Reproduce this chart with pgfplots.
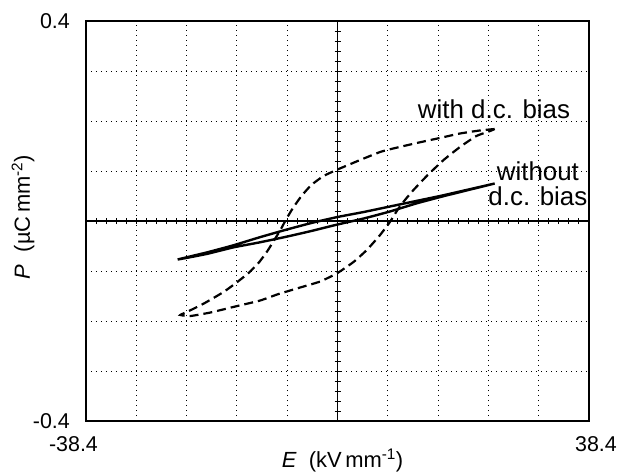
\documentclass[border=0pt]{standalone}
\usepackage{pgfplots}
\pgfplotsset{compat=1.18}
\usepackage{fontspec}
\setmainfont{Liberation Sans}
\newcommand{\annf}{\fontsize{26}{30}\selectfont}
\newcommand{\tickf}{\fontsize{21.5}{24}\selectfont}
\newcommand{\labf}{\fontsize{22}{26}\selectfont}
\begin{document}
\begin{tikzpicture}
\begin{axis}[
  scale only axis, width=503bp, height=400bp,
  xmin=-38.4, xmax=38.4, ymin=-0.4, ymax=0.4,
  xtick={-38.4,38.4}, xticklabels={{-38.4\hspace*{25bp}},{\hspace*{14bp}38.4}},
  ytick={-0.4,0.4}, yticklabels={-0.4,0.4},
  minor xtick={-30.72,-23.04,-15.36,-7.68,7.68,15.36,23.04,30.72},
  minor ytick={-0.3,-0.2,-0.1,0.1,0.2,0.3},
  grid=minor, minor grid style={black, line width=0.9bp, dash pattern=on 1.2bp off 3.8bp},
  major tick length=0pt, minor tick length=0pt,
  tick label style={font=\tickf},
  xticklabel style={anchor=north, inner sep=0pt, yshift=-15bp},
  yticklabel style={anchor=east, inner sep=0pt, xshift=-16bp},
  xlabel={\textit{E}\ \ (kV\,mm\textsuperscript{-1})},
  ylabel={\textit{P}\ \ (µC\,mm\textsuperscript{-2})},
  xlabel style={font=\labf, at={(axis description cs:0.5,0)}, anchor=base, yshift=-46bp, xshift=5bp},
  ylabel style={font=\labf, at={(axis description cs:0,0.5)}, anchor=center, rotate=0, yshift=63bp, xshift=4bp},
  axis line style={line width=1.2bp},
  clip=false,
]
% with d.c. bias (dashed)
\addplot[black, line width=2.2bp, dash pattern=on 9bp off 5bp, smooth, tension=0.3] coordinates {
(24.0,0.184) (21.7,0.181) (18.7,0.175) (15.6,0.166) (12.1,0.156) (8.5,0.145) (6.5,0.138)
(3.45,0.122) (0,0.103) (-2.13,0.090) (-4.0,0.072) (-5.5,0.050) (-6.8,0.026) (-7.9,0.002)
(-8.8,-0.020) (-9.75,-0.040) (-10.7,-0.060) (-12.0,-0.083) (-13.5,-0.103) (-15.3,-0.122)
(-17.4,-0.142) (-20.4,-0.165) (-23.0,-0.182) (-24.0,-0.188)
(-22.45,-0.190) (-19.4,-0.183) (-15.3,-0.170) (-11.8,-0.159) (-9.0,-0.146) (-5.7,-0.133)
(-2.64,-0.121) (0,-0.104) (2.44,-0.082) (4.47,-0.058) (6.5,-0.028) (8.0,-0.002) (9.3,0.025)
(10.3,0.042) (11.6,0.062) (13.7,0.091) (16.2,0.122) (18.7,0.148) (21.2,0.170) (23.3,0.180) (24.0,0.184)
};
% without d.c. bias (solid)
\addplot[black, line width=2.4bp, smooth, tension=0.3] coordinates {
(24.0,0.075) (20,0.063) (16,0.051) (12,0.040) (8,0.029) (4,0.018) (0,0.008) (-4,-0.004)
(-8,-0.018) (-12,-0.033) (-16,-0.049) (-20,-0.063) (-24.4,-0.077)
(-20,-0.066) (-16,-0.053) (-12,-0.043) (-8,-0.032) (-4,-0.020) (0,-0.007) (4,0.005)
(8,0.019) (12,0.035) (16,0.049) (20,0.062) (24.0,0.075)
};
\node[font=\annf, anchor=base] at (axis cs:23.9,0.206) {with d.c. bias};
\node[font=\annf, anchor=base] at (axis cs:30.6,0.082) {without};
\node[font=\annf, anchor=base] at (axis cs:30.6,0.032) {d.c. bias};
\end{axis}
\begin{axis}[
  scale only axis, width=503bp, height=400bp,
  xmin=-38.4, xmax=38.4, ymin=-0.4, ymax=0.4,
  axis lines=middle, axis line style={-, line width=1.2bp},
  xtick={-36.864,-35.328,...,36.9}, ytick={-0.38,-0.36,...,0.39},
  xticklabels={}, yticklabels={},
  tick align=center, major tick length=6bp,
  tick style={line width=1bp, black},
]
\end{axis}
\path (-86bp,-55bp) rectangle (533bp,421bp);
\end{tikzpicture}
\end{document}
